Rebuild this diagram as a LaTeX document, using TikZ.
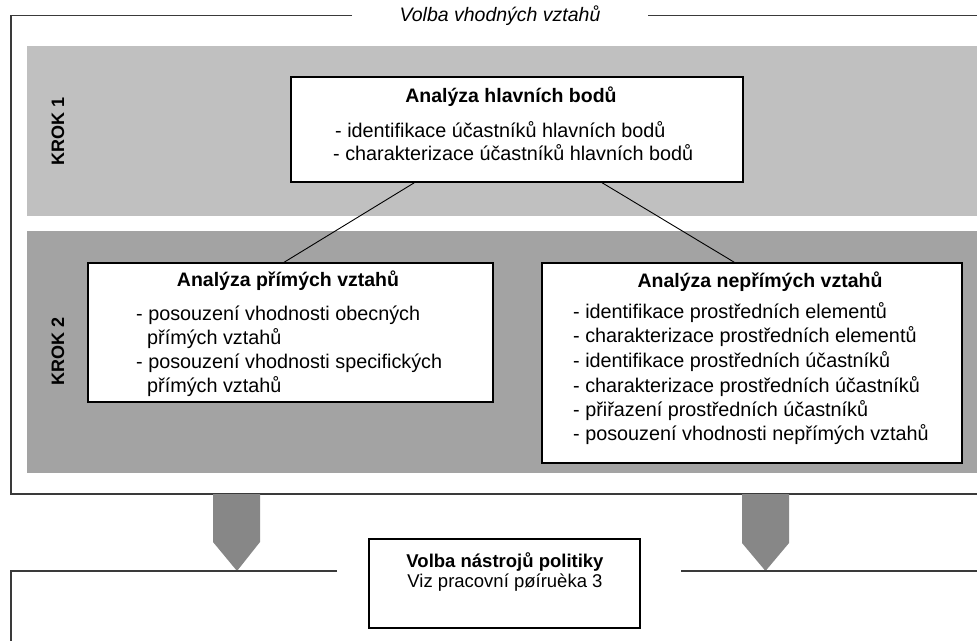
\documentclass[tikz,border=0pt]{standalone}
\usepackage{fontspec}
\setmainfont{Liberation Sans}
\usetikzlibrary{calc}
\definecolor{bandA}{HTML}{C0C0C0}
\definecolor{bandB}{HTML}{A3A3A3}
\definecolor{arrowgray}{HTML}{878787}
\definecolor{framegray}{HTML}{3A3A3A}
\begin{document}
\begin{tikzpicture}[x=1pt,y=-1pt,
  box/.style={draw=black, line width=1.6pt, fill=white, inner sep=0pt},
  txt/.style={anchor=west, inner sep=0pt, font=\fontsize{19.8}{24}\selectfont},
  ttl/.style={inner sep=0pt, font=\fontsize{19.5}{24}\selectfont\bfseries},
  krok/.style={inner sep=0pt, rotate=90, font=\fontsize{18}{20}\selectfont\bfseries},
  frame/.style={draw=framegray, line width=1.5pt},
  conn/.style={draw=black, line width=0.9pt}]
\useasboundingbox (0,0) rectangle (977,641);
% bands
\fill[bandA] (27,46) rectangle (977,216);
\fill[bandB] (27,231) rectangle (977,473);
% outer frame
\draw[frame] (352,15.5) -- (11,15.5) -- (11,494) -- (977,494);
\draw[frame] (648,15.5) -- (977,15.5);
\node[inner sep=0pt, font=\fontsize{19.5}{22}\selectfont\itshape] (volba) at (500,16) {Volba vhodných vztahů};
% step labels
\node[krok] (k1) at (58,131) {KROK 1};
\node[krok] (k2) at (58,351) {KROK 2};
% boxes
\node[box, minimum width=452pt, minimum height=105pt] (top) at (517,129.5) {};
\node[box, minimum width=405pt, minimum height=139pt] (left) at (290.5,332.5) {};
\node[box, minimum width=420pt, minimum height=200pt] (right) at (752,363) {};
% connectors
\draw[conn] ($(top.south west)+(124,0)$) -- ($(left.north west)+(197,0)$);
\draw[conn] ($(top.south west)+(312,0)$) -- ($(right.north west)+(193,0)$);
% top box text
\node[ttl] (t0) at (511,97) {Analýza hlavních bodů};
\node[txt] (t1) at (335,130) {- identifikace účastníků hlavních bodů};
\node[txt] (t2) at (333,153) {- charakterizace účastníků hlavních bodů};
% left box text
\node[ttl] (l0) at (288,281) {Analýza přímých vztahů};
\node[txt] (l1) at (136,315) {- posouzení vhodnosti obecných};
\node[txt] (l2) at (147,339) {přímých vztahů};
\node[txt] (l3) at (136,363) {- posouzení vhodnosti specifických};
\node[txt] (l4) at (147,387) {přímých vztahů};
% right box text
\node[ttl] (r0) at (760,282) {Analýza nepřímých vztahů};
\node[txt] (r1) at (573,313) {- identifikace prostředních elementů};
\node[txt] (r2) at (573,337) {- charakterizace prostředních elementů};
\node[txt] (r3) at (573,362) {- identifikace prostředních účastníků};
\node[txt] (r4) at (573,387) {- charakterizace prostředních účastníků};
\node[txt] (r5) at (573,411) {- přiřazení prostředních účastníků};
\node[txt] (r6) at (573,435) {- posouzení vhodnosti nepřímých vztahů};
% arrows
\fill[arrowgray] (213,494) -- (260,494) -- (260,542) -- (237,571) -- (213,542) -- cycle;
\fill[arrowgray] (742,494) -- (789,494) -- (789,543) -- (765.5,571) -- (742,543) -- cycle;
% lower frame
\draw[frame] (337,571) -- (11,571) -- (11,641);
\draw[frame] (681,571) -- (977,571);
% bottom box
\node[box, line width=1.8pt, minimum width=271pt, minimum height=89pt] (bot) at (504.5,583.5) {};
\node[inner sep=0pt, font=\fontsize{18.5}{20}\selectfont\bfseries] (b1) at (505,562) {Volba nástrojů politiky};
\node[inner sep=0pt, font=\fontsize{18.5}{20}\selectfont] (b2) at (505,583) {Viz pracovní pøíruèka 3};
\end{tikzpicture}
\end{document}
